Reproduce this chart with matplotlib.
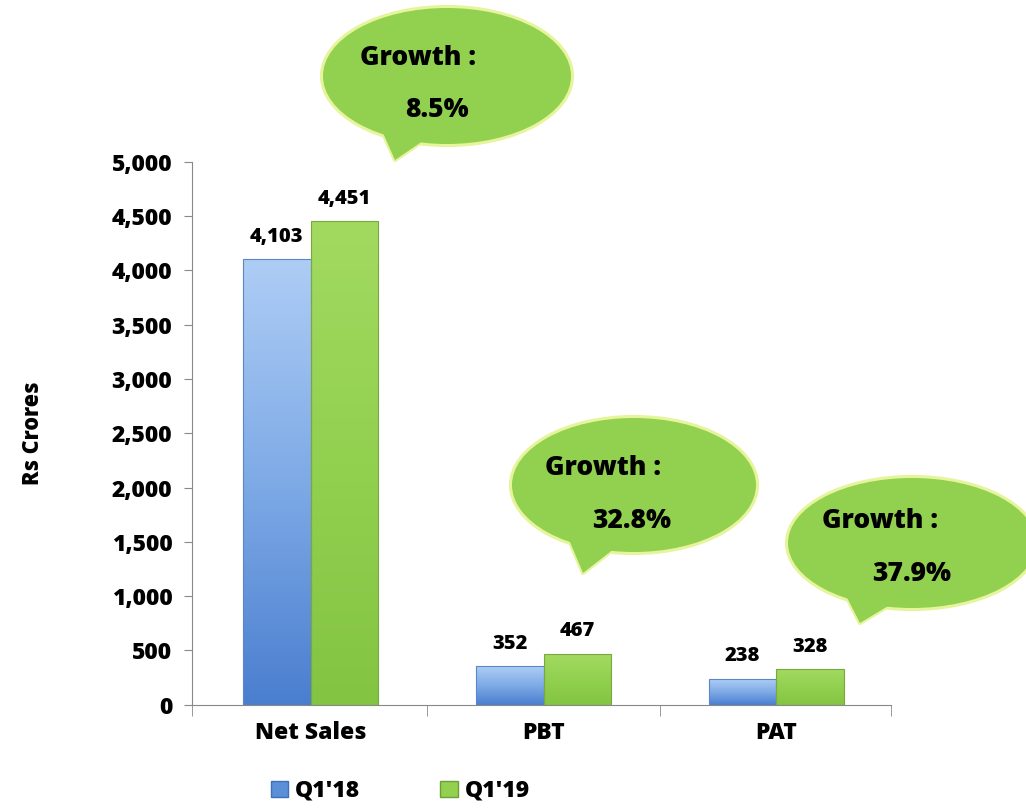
import numpy as np
import matplotlib.pyplot as plt
from matplotlib.patches import Ellipse, Polygon, Patch
from matplotlib.colors import LinearSegmentedColormap

plt.rcParams['font.family'] = ['Open Sans', 'DejaVu Sans']

# data
categories = ['Net Sales', 'PBT', 'PAT']
q1_18 = [4103, 352, 238]
q1_19 = [4451, 467, 328]
growth = ['8.5%', '32.8%', '37.9%']
series_names = ["Q1'18", "Q1'19"]

BOLD = 800

fig = plt.figure(figsize=(10.26, 8.09), dpi=100)
ax = fig.add_axes([0.187, 0.129, 0.681, 0.671])

x = np.arange(len(categories))
w = 0.29

blue_cmap = LinearSegmentedColormap.from_list('b', ['#4a7ecf', '#7eaae6', '#aecdf5'])
green_cmap = LinearSegmentedColormap.from_list('g', ['#84c443', '#92d050', '#a2da60'])

bars1 = ax.bar(x - w / 2, q1_18, w, color='none', edgecolor='#5b86c8', linewidth=0.8, zorder=3)
bars2 = ax.bar(x + w / 2, q1_19, w, color='none', edgecolor='#7aa83e', linewidth=0.8, zorder=3)

# gradient fill clipped to each bar
grad = np.linspace(0, 1, 256).reshape(-1, 1)
for bars, cmap in ((bars1, blue_cmap), (bars2, green_cmap)):
    for b in bars:
        bx, by = b.get_x(), b.get_y()
        bw, bh = b.get_width(), b.get_height()
        im = ax.imshow(grad, cmap=cmap, origin='lower', aspect='auto',
                       extent=[bx, bx + bw, by, by + bh], zorder=2)
        im.set_clip_path(b)
ax.set_xlim(-0.51, 2.49)
ax.set_ylim(0, 5000)

for bars, vals in ((bars1, q1_18), (bars2, q1_19)):
    for b, v in zip(bars, vals):
        ax.annotate(f'{v:,}', (b.get_x() + b.get_width() / 2, v), xytext=(0, 9),
                    textcoords='offset points', ha='center', va='bottom',
                    fontsize=14.5, fontweight=BOLD)

ax.set_yticks(np.arange(0, 5001, 500))
ax.set_yticklabels([f'{v:,}' for v in range(0, 5001, 500)], fontsize=16.5, fontweight=BOLD)
ax.set_xticks(x)
ax.set_xticklabels(categories, fontsize=16.5, fontweight=BOLD)
ax.tick_params(axis='x', length=0, pad=12)
ax.set_xticks([-0.51, 0.5, 1.5, 2.49], minor=True)
ax.tick_params(axis='x', which='minor', length=8, color='#888888')
ax.tick_params(axis='y', length=6, color='#888888', pad=8)
for s in ('top', 'right'):
    ax.spines[s].set_visible(False)
for s in ('left', 'bottom'):
    ax.spines[s].set_color('#888888')
ax.set_ylabel('Rs Crores', fontsize=15.5, fontweight=BOLD, labelpad=48)

handles = [Patch(facecolor='#5b8fd8', edgecolor='#3f6fb8'),
           Patch(facecolor='#92d050', edgecolor='#6e9e3a')]
fig.legend(handles, series_names, loc='lower left', bbox_to_anchor=(0.244, -0.018),
           ncol=2, frameon=False, prop={'size': 16.5, 'weight': BOLD},
           handlelength=0.75, handleheight=0.75, handletextpad=0.3, columnspacing=3.5)

# speech bubbles in pixel coordinates
ov = fig.add_axes([0, 0, 1, 1], zorder=10)
ov.set_xlim(0, 1026)
ov.set_ylim(809, 0)
ov.axis('off')
ov.patch.set_alpha(0)

bubbles = [
    # ellipse center, width, height, tail base points, tip, text positions
    ((447, 76), 250, 138, [(375, 115), (442, 128)], (395, 160), (418, 58), (437, 110)),
    ((634, 485), 246, 136, [(562, 523), (628, 538)], (583, 573), (603, 468), (632, 521)),
    ((912, 543), 250, 132, [(838, 580), (908, 594)], (860, 623), (880, 521), (912, 574)),
]
face, edge = '#92d050', '#e6f49c'
for (cx, cy), ew, eh, base, tip, t1, t2 in bubbles:
    pts = [base[0], tip, base[1]]
    ov.add_patch(Polygon(pts, closed=True, facecolor=face, edgecolor=edge,
                         linewidth=3, joinstyle='round', zorder=1))
    ov.add_patch(Ellipse((cx, cy), ew, eh, facecolor=face, edgecolor=edge,
                         linewidth=3, zorder=2))
    ov.add_patch(Polygon(pts, closed=True, facecolor=face, edgecolor='none', zorder=3))
    ov.add_patch(Ellipse((cx, cy), ew - 2, eh - 2, facecolor=face, edgecolor='none', zorder=3))

for b, g in zip(bubbles, growth):
    t1, t2 = b[5], b[6]
    ov.text(t1[0], t1[1], 'Growth :', ha='center', va='center', fontsize=19,
            fontweight=BOLD, zorder=5)
    ov.text(t2[0], t2[1], g, ha='center', va='center', fontsize=19,
            fontweight=BOLD, zorder=5)

fig.savefig('out.png', dpi=100)
